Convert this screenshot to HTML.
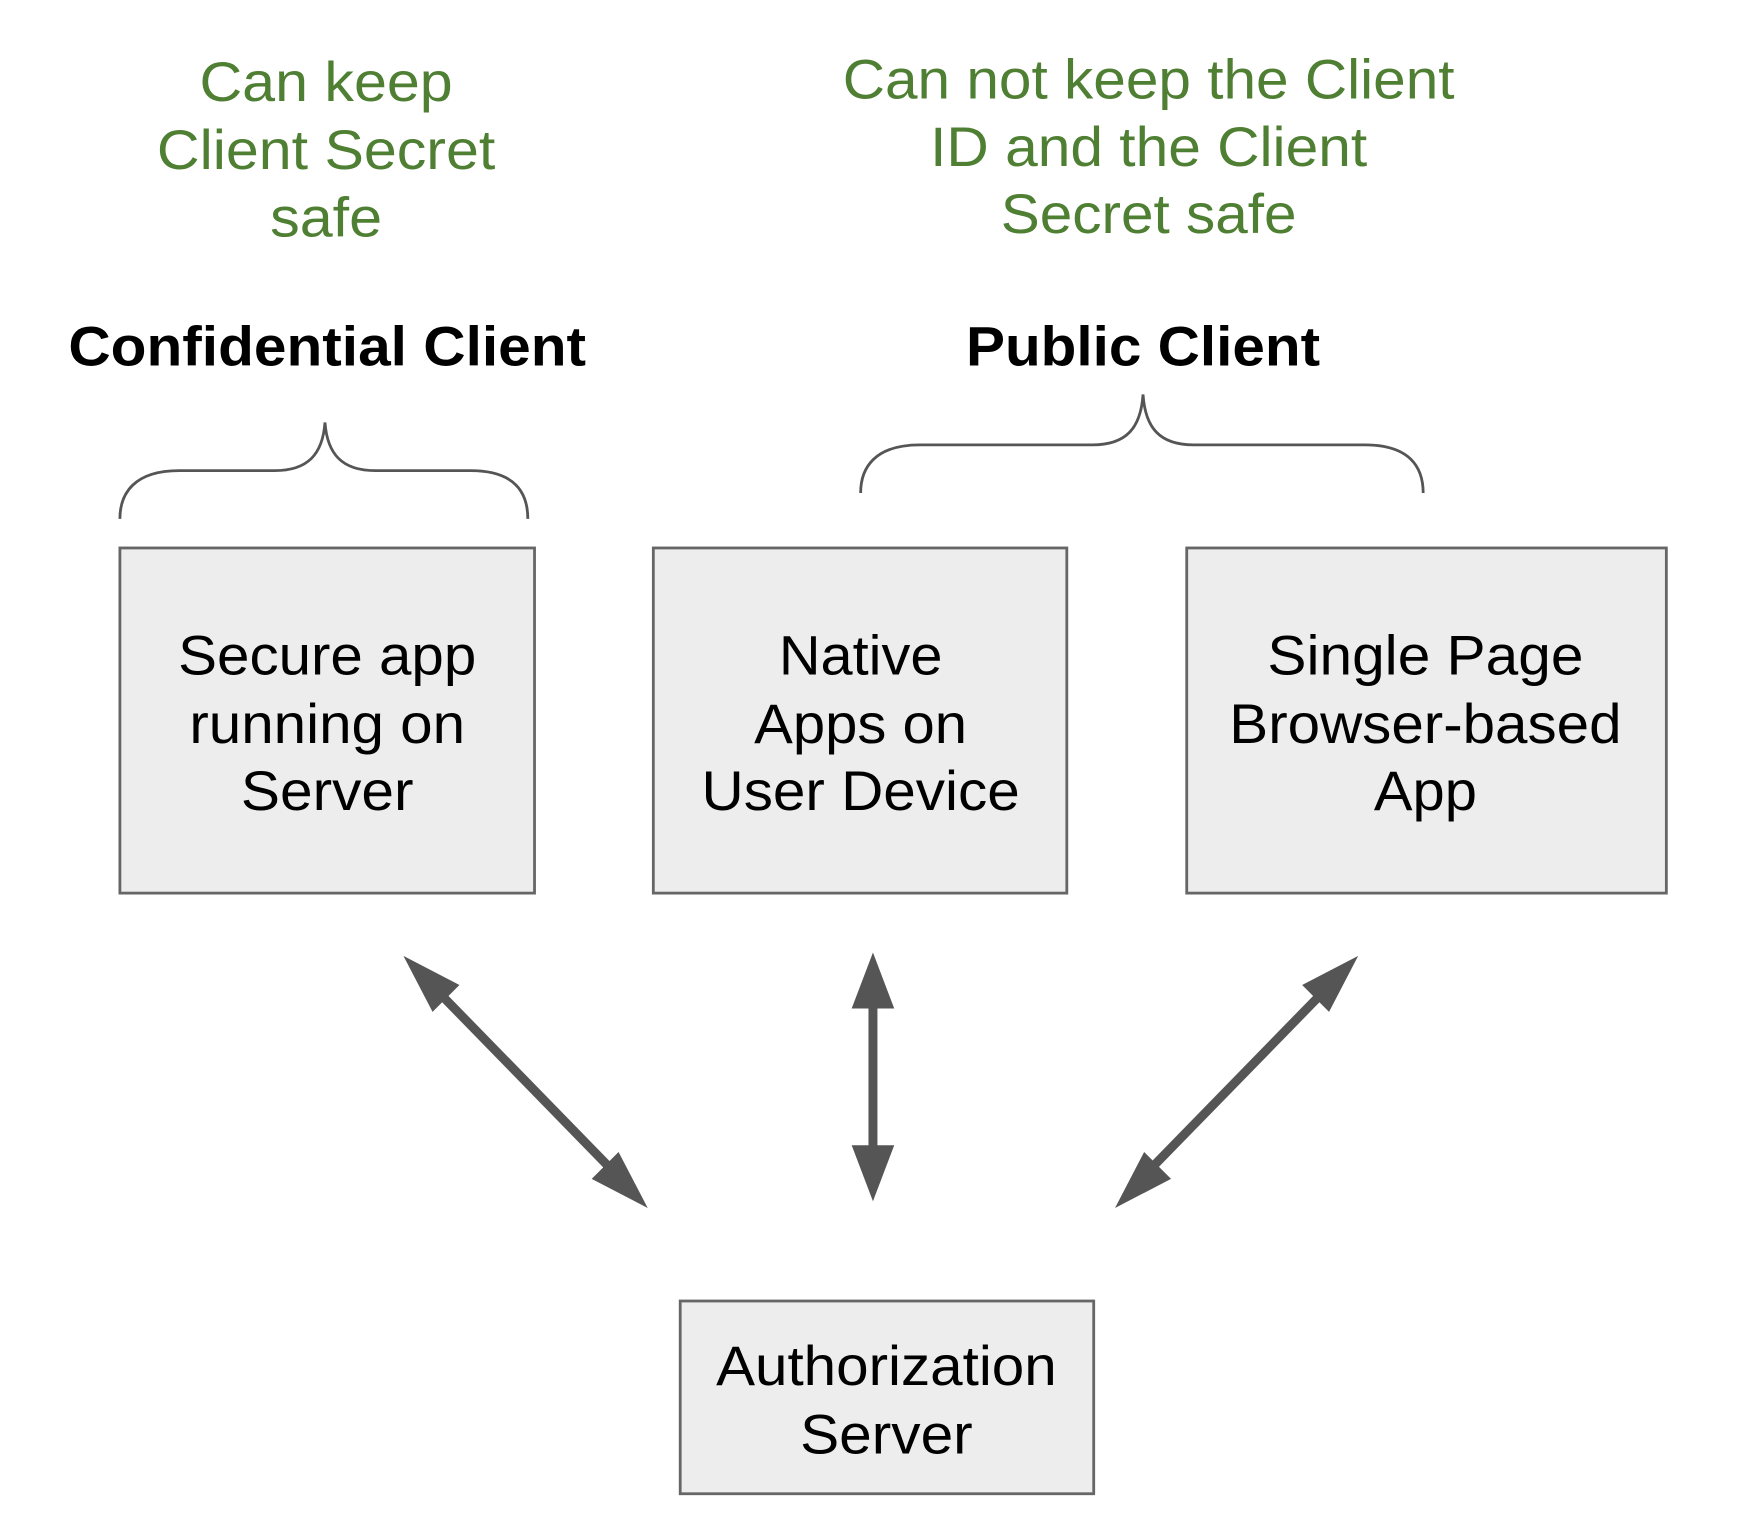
<!DOCTYPE html>
<html><head><meta charset="utf-8"><style>
html,body{margin:0;padding:0;background:#fff;}
svg{display:block;}
text{font-family:"Liberation Sans",Arial,sans-serif;}
</style></head><body>
<svg width="1756" height="1524" viewBox="0 0 1567 1360" preserveAspectRatio="none" xmlns="http://www.w3.org/2000/svg">
<rect width="1567" height="1360" fill="#fff"/>
<g fill="#4f7f33" font-size="50" text-anchor="middle">
<text x="291" y="90" textLength="226" lengthAdjust="spacingAndGlyphs">Can keep</text>
<text x="291" y="151" textLength="302" lengthAdjust="spacingAndGlyphs">Client Secret</text>
<text x="291" y="211" textLength="100" lengthAdjust="spacingAndGlyphs">safe</text>
<text x="1025" y="88" textLength="546" lengthAdjust="spacingAndGlyphs">Can not keep the Client</text>
<text x="1025" y="148" textLength="390" lengthAdjust="spacingAndGlyphs">ID and the Client</text>
<text x="1025" y="208" textLength="264" lengthAdjust="spacingAndGlyphs">Secret safe</text>
</g>
<g fill="#000" font-size="50" font-weight="bold" text-anchor="middle">
<text x="292" y="326" textLength="462" lengthAdjust="spacingAndGlyphs">Confidential Client</text>
<text x="1020" y="326" textLength="316" lengthAdjust="spacingAndGlyphs">Public Client</text>
</g>
<g fill="none" stroke="#555" stroke-width="2.5">
<path d="M107,463 C107,440 120,420 160,420 L245,420 C275,420 288,405 290,377 C292,405 305,420 335,420 L420,420 C460,420 471,440 471,463"/>
<path d="M768,440 C768,417 781,397 821,397 L975,397 C1005,397 1018,382 1020,352 C1022,382 1035,397 1065,397 L1218,397 C1258,397 1270,417 1270,440"/>
</g>
<g fill="#eeedee" stroke="#666" stroke-width="2.5">
<rect x="107" y="489" width="370" height="308"/>
<rect x="583" y="489" width="369" height="308"/>
<rect x="1059" y="489" width="428" height="308"/>
<rect x="607" y="1161" width="369" height="172"/>
</g>
<g fill="#000" font-size="50" text-anchor="middle">
<text x="292" y="602" textLength="266" lengthAdjust="spacingAndGlyphs">Secure app</text>
<text x="292" y="663" textLength="246" lengthAdjust="spacingAndGlyphs">running on</text>
<text x="292" y="723" textLength="154" lengthAdjust="spacingAndGlyphs">Server</text>
<text x="768" y="602" textLength="146" lengthAdjust="spacingAndGlyphs">Native</text>
<text x="768" y="663" textLength="190" lengthAdjust="spacingAndGlyphs">Apps on</text>
<text x="768" y="723" textLength="284" lengthAdjust="spacingAndGlyphs">User Device</text>
<text x="1272" y="602" textLength="282" lengthAdjust="spacingAndGlyphs">Single Page</text>
<text x="1272" y="663" textLength="350" lengthAdjust="spacingAndGlyphs">Browser-based</text>
<text x="1272" y="723" textLength="92" lengthAdjust="spacingAndGlyphs">App</text>
<text x="791" y="1236" textLength="304" lengthAdjust="spacingAndGlyphs">Authorization</text>
<text x="791" y="1297" textLength="154" lengthAdjust="spacingAndGlyphs">Server</text>
</g>
<g stroke="#555" stroke-width="8">
<line x1="390" y1="884" x2="548" y2="1046"/>
<line x1="779" y1="890" x2="779" y2="1030"/>
<line x1="1182" y1="884" x2="1024" y2="1046"/>
</g>
<g fill="#555">
<polygon points="360,853 410,879 386,903"/>
<polygon points="578,1078 528,1052 552,1028"/>
<polygon points="779,850 798,900 760,900"/>
<polygon points="779,1072 760,1022 798,1022"/>
<polygon points="1212,853 1186,903 1162,879"/>
<polygon points="995,1078 1021,1028 1045,1052"/>
</g>
</svg>
</body></html>
